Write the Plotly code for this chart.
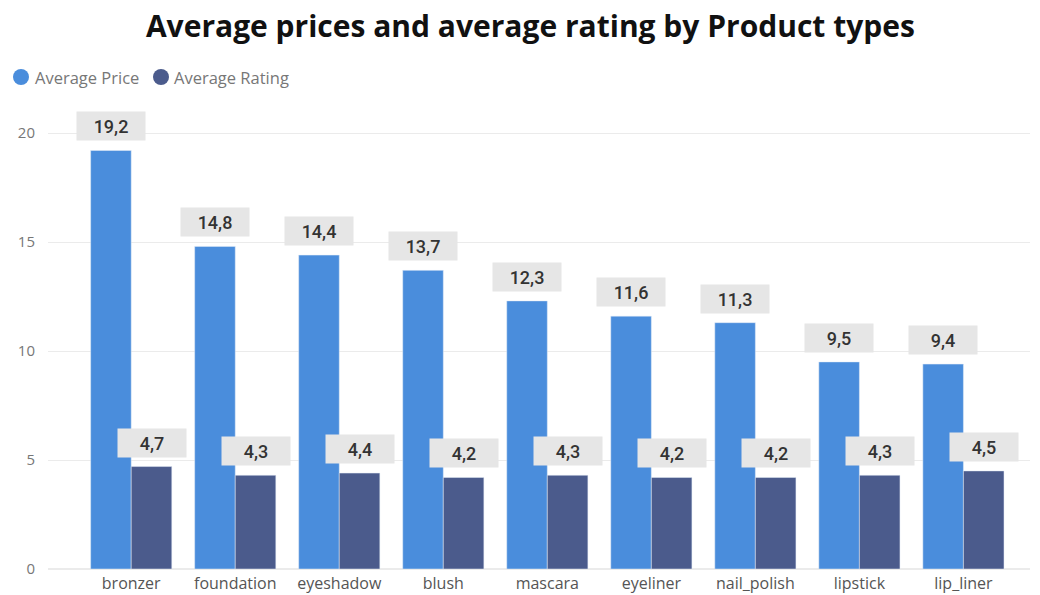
import plotly.graph_objects as go

categories = ["bronzer", "foundation", "eyeshadow", "blush", "mascara",
              "eyeliner", "nail_polish", "lipstick", "lip_liner"]
avg_price = [19.2, 14.8, 14.4, 13.7, 12.3, 11.6, 11.3, 9.5, 9.4]
avg_rating = [4.7, 4.3, 4.4, 4.2, 4.3, 4.2, 4.2, 4.3, 4.5]
y_ticks = [0, 5, 10, 15, 20]
series_names = ["Average Price", "Average Rating"]

C_PRICE = "#4a8ddc"
C_RATING = "#4b5b8c"
BARGAP = 0.22
BAR_PX = 104 * (1 - BARGAP) / 2

W, H = 1040, 595
ML, MR, MT, MB = 48, 10, 118, 26
PW, PH = W - ML - MR, H - MT - MB


def px_to_paper(px, py):
    return (px - ML) / PW, (H - MB - py) / PH


fig = go.Figure()
fig.add_trace(go.Bar(x=categories, y=avg_price, name=series_names[0],
                     marker_color=C_PRICE, showlegend=False))
fig.add_trace(go.Bar(x=categories, y=avg_rating, name=series_names[1],
                     marker_color=C_RATING, showlegend=False))


def fmt(v):
    return f"{v:.1f}".replace(".", ",")


annots = []
shapes = []
for series, shift in ((avg_price, -BAR_PX / 2), (avg_rating, BAR_PX / 2)):
    for c, v in zip(categories, series):
        annots.append(dict(x=c, y=v, xref="x", yref="y", text=fmt(v),
                           showarrow=False, yanchor="bottom", xshift=shift,
                           yshift=9, bgcolor="#e6e6e6", width=60, height=20,
                           borderpad=4,
                           font=dict(family="Roboto", size=18, color="#333333", weight=500)))

# custom legend (circle markers + labels)
legend_items = [(series_names[0], C_PRICE, 21, 33), (series_names[1], C_RATING, 161, 172)]
for name, col, cx, tx in legend_items:
    px, py = px_to_paper(cx, 77)
    shapes.append(dict(type="circle", xref="paper", yref="paper",
                       xsizemode="pixel", ysizemode="pixel", xanchor=px, yanchor=py,
                       x0=-8, x1=8, y0=-8, y1=8, fillcolor=col, line=dict(width=0)))
    tpx, tpy = px_to_paper(tx, 77)
    annots.append(dict(x=tpx, y=tpy, xref="paper", yref="paper", text=name,
                       showarrow=False, xanchor="left", yanchor="middle",
                       font=dict(family="Open Sans", size=16.5, color="#777777")))

fig.update_layout(
    width=W, height=H,
    margin=dict(l=ML, r=MR, t=MT, b=MB),
    paper_bgcolor="white", plot_bgcolor="white",
    barmode="group", bargap=BARGAP, bargroupgap=0,
    title=dict(text="<b>Average prices and average rating by Product types</b>",
               x=0.51, xanchor="center", y=(H - 26) / H, yanchor="middle",
               font=dict(family="Open Sans", size=30, color="#111111")),
    annotations=annots,
    shapes=shapes,
    showlegend=False,
)
fig.update_xaxes(range=[-0.8, 8.64], showgrid=False, showline=False, ticks="",
                 ticklabelstandoff=3, automargin=False,
                 tickfont=dict(family="Open Sans", size=16, color="#555555"))
fig.update_yaxes(range=[0, 20.69], tickvals=y_ticks, showgrid=True, gridcolor="#ebebeb",
                 zeroline=True, zerolinecolor="#ebebeb", ticklabelstandoff=12,
                 automargin=False,
                 tickfont=dict(family="Open Sans", size=15, color="#777777"))

fig.write_html("out.html")
